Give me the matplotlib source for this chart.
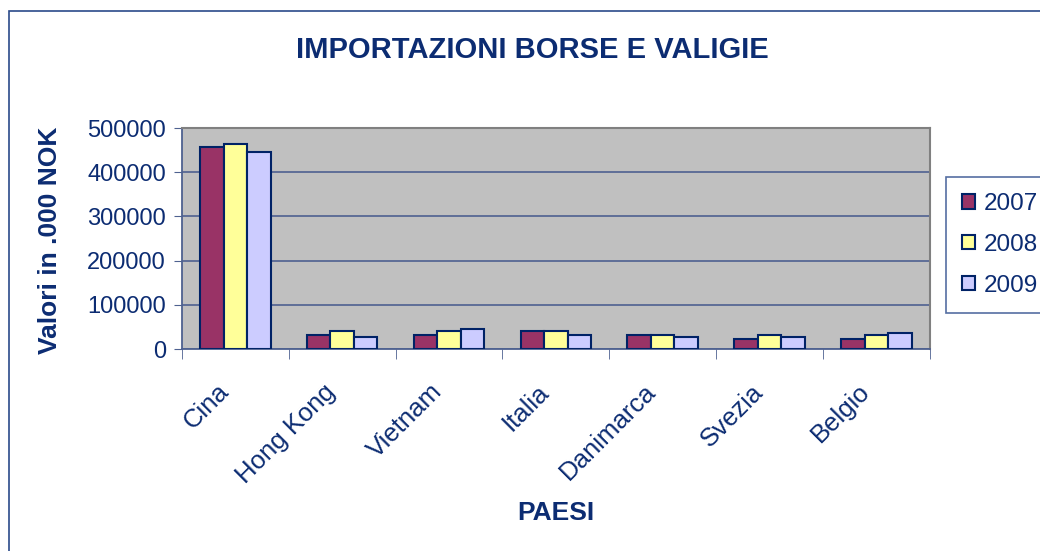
import matplotlib.pyplot as plt
import numpy as np
import matplotlib.transforms as mtransforms
from matplotlib.patches import Rectangle
from matplotlib.ticker import FixedLocator

# data (in .000 NOK)
paesi = ["Cina", "Hong Kong", "Vietnam", "Italia", "Danimarca", "Svezia", "Belgio"]
anni = ["2007", "2008", "2009"]
v2007 = [458000, 32000, 32000, 41000, 32000, 23000, 23000]
v2008 = [463000, 41000, 41000, 41000, 32000, 32000, 31000]
v2009 = [445000, 27000, 45000, 32000, 27000, 27000, 36000]
y_ticks = [0, 100000, 200000, 300000, 400000, 500000]

navy = '#0c2c72'
edge = '#002266'
colori = ['#993366', '#FFFF99', '#CCCCFF']

plt.rcParams['font.family'] = ['Liberation Sans', 'DejaVu Sans']

fig = plt.figure(figsize=(10.4, 5.51), dpi=100)
# outer chart frame (only top and left visible)
fig.patches.append(Rectangle((9 / 1040, -0.05), 1.1, 1 - 11 / 551 + 0.05,
                             transform=fig.transFigure, fill=False,
                             edgecolor='#2a4a8a', lw=1.2))

ax = fig.add_axes([0.175, 0.3666, 0.719, 0.401])
ax.set_facecolor('#C0C0C0')

x = np.arange(len(paesi))
w = 0.22
for i, (serie, col) in enumerate(zip([v2007, v2008, v2009], colori)):
    ax.bar(x + (i - 1) * w, serie, w, color=col, edgecolor=edge,
           linewidth=1.5, label=anni[i], zorder=3)

ax.set_xlim(-0.5, len(paesi) - 0.5)
ax.set_ylim(0, 500000)
ax.yaxis.set_major_locator(FixedLocator(y_ticks))
ax.grid(axis='y', color='#4e6190', lw=1.2, zorder=1)

ax.set_xticks(x)
ax.set_xticklabels(paesi, rotation=45, ha='right', rotation_mode='anchor',
                   fontsize=18.5, color=navy)
ax.tick_params(axis='x', which='major', length=0, pad=22)
# nudge the rotated labels a bit to the left, like the original
shift = mtransforms.ScaledTranslation(-19 / 100, 0, fig.dpi_scale_trans)
for lab in ax.get_xticklabels():
    lab.set_transform(lab.get_transform() + shift)
ax.xaxis.set_minor_locator(FixedLocator(np.arange(-0.5, len(paesi), 1.0)))
ax.tick_params(axis='x', which='minor', length=7, color='#4e6190', direction='out')
ax.tick_params(axis='y', length=6, pad=5.5, color='#4e6190', labelsize=17,
               labelcolor=navy)

for s in ['left', 'bottom']:
    ax.spines[s].set_color('#4e6190')
    ax.spines[s].set_linewidth(1.3)
for s in ['top', 'right']:
    ax.spines[s].set_color('#808080')
    ax.spines[s].set_linewidth(1.5)

fig.text(532 / 1040, 1 - 50 / 551, "IMPORTAZIONI BORSE E VALIGIE", fontsize=21,
         fontweight='bold', color=navy, ha='center', va='center')
fig.text(50 / 1040, 1 - 240 / 551, "Valori in .000 NOK", fontsize=19,
         fontweight='bold', color=navy, ha='center', va='center', rotation=90)
fig.text(556 / 1040, 1 - 513 / 551, "PAESI", fontsize=19, fontweight='bold',
         color=navy, ha='center', va='center')

leg = ax.legend(loc='upper left', bbox_to_anchor=(946 / 1040, 1 - 177 / 551),
                bbox_transform=fig.transFigure, fontsize=17.5, frameon=True,
                fancybox=False, labelcolor=navy, handlelength=0.55,
                handleheight=0.55, handletextpad=0.35, labelspacing=0.78,
                borderpad=0.65, borderaxespad=0)
leg.get_frame().set_edgecolor('#2a4a8a')
leg.get_frame().set_linewidth(1.2)

fig.savefig("out.png", dpi=100)
